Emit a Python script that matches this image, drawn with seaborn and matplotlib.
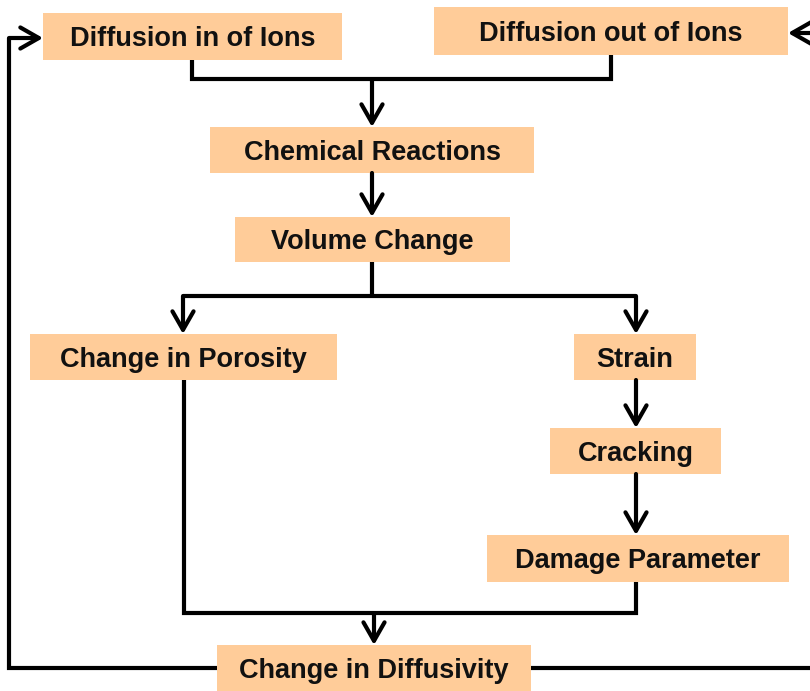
import matplotlib
matplotlib.use("Agg")
import matplotlib.pyplot as plt
import seaborn as sns
from matplotlib.patches import Rectangle

sns.set_theme(style="white")
plt.rcParams['font.family'] = ['Liberation Sans', 'DejaVu Sans']

# node labels of the flow chart
labels = ["Diffusion in of Ions", "Diffusion out of Ions", "Chemical Reactions",
          "Volume Change", "Change in Porosity", "Strain", "Cracking",
          "Damage Parameter", "Change in Diffusivity"]

# layout (pixels, y down): x0, y0, x1, y1
boxes = [(43, 13, 342, 60), (434, 7, 788, 55), (210, 127, 534, 173),
         (235, 217, 510, 262), (30, 334, 337, 380), (574, 334, 696, 380),
         (550, 428, 721, 474), (487, 535, 789, 582), (217, 645, 531, 695)]

fill = "#FFCC99"
lw = 3.0

fig = plt.figure(figsize=(8.1, 6.91), dpi=100)
ax = fig.add_axes([0, 0, 1, 1])
ax.set_xlim(0, 810)
ax.set_ylim(691, 0)
ax.axis("off")

for lab, (x0, y0, x1, y1) in zip(labels, boxes):
    ax.add_patch(Rectangle((x0, y0), x1 - x0, y1 - y0, facecolor=fill,
                           edgecolor="none", zorder=2))
    cy = (y0 + y1) / 2 if y1 <= 691 else 668
    ax.text((x0 + x1) / 2, cy + 9.5, lab, ha="center", va="baseline",
            fontsize=19.5, fontweight="bold", color="#111111", zorder=3)


def line(xs, ys):
    ax.plot(xs, ys, color="black", lw=lw, solid_joinstyle="miter",
            solid_capstyle="butt", zorder=1)


def arrow(x0, y0, x1, y1):
    ax.annotate("", xy=(x1, y1), xytext=(x0, y0),
                arrowprops=dict(arrowstyle="->,head_length=0.7,head_width=0.4",
                                color="black", lw=lw, mutation_scale=19,
                                shrinkA=0, shrinkB=0), zorder=4)


# top merge
line([192, 192, 611, 611], [60, 79, 79, 55])
arrow(372, 79, 372, 127)
arrow(372, 173, 372, 217)
# split
line([372, 372], [262, 296])
line([183, 636], [296, 296])
arrow(183, 296, 183, 334)
arrow(636, 296, 636, 334)
arrow(636, 380, 636, 428)
arrow(636, 474, 636, 535)
# bottom merge
line([184, 184, 636, 636], [380, 613, 613, 582])
arrow(374, 613, 374, 645)
# feedback loops
line([217, 9, 9], [668, 668, 38])
arrow(9, 38, 43, 38)
line([531, 815], [668, 668])
arrow(815, 33, 788, 33)

fig.savefig("out.png", dpi=100)
